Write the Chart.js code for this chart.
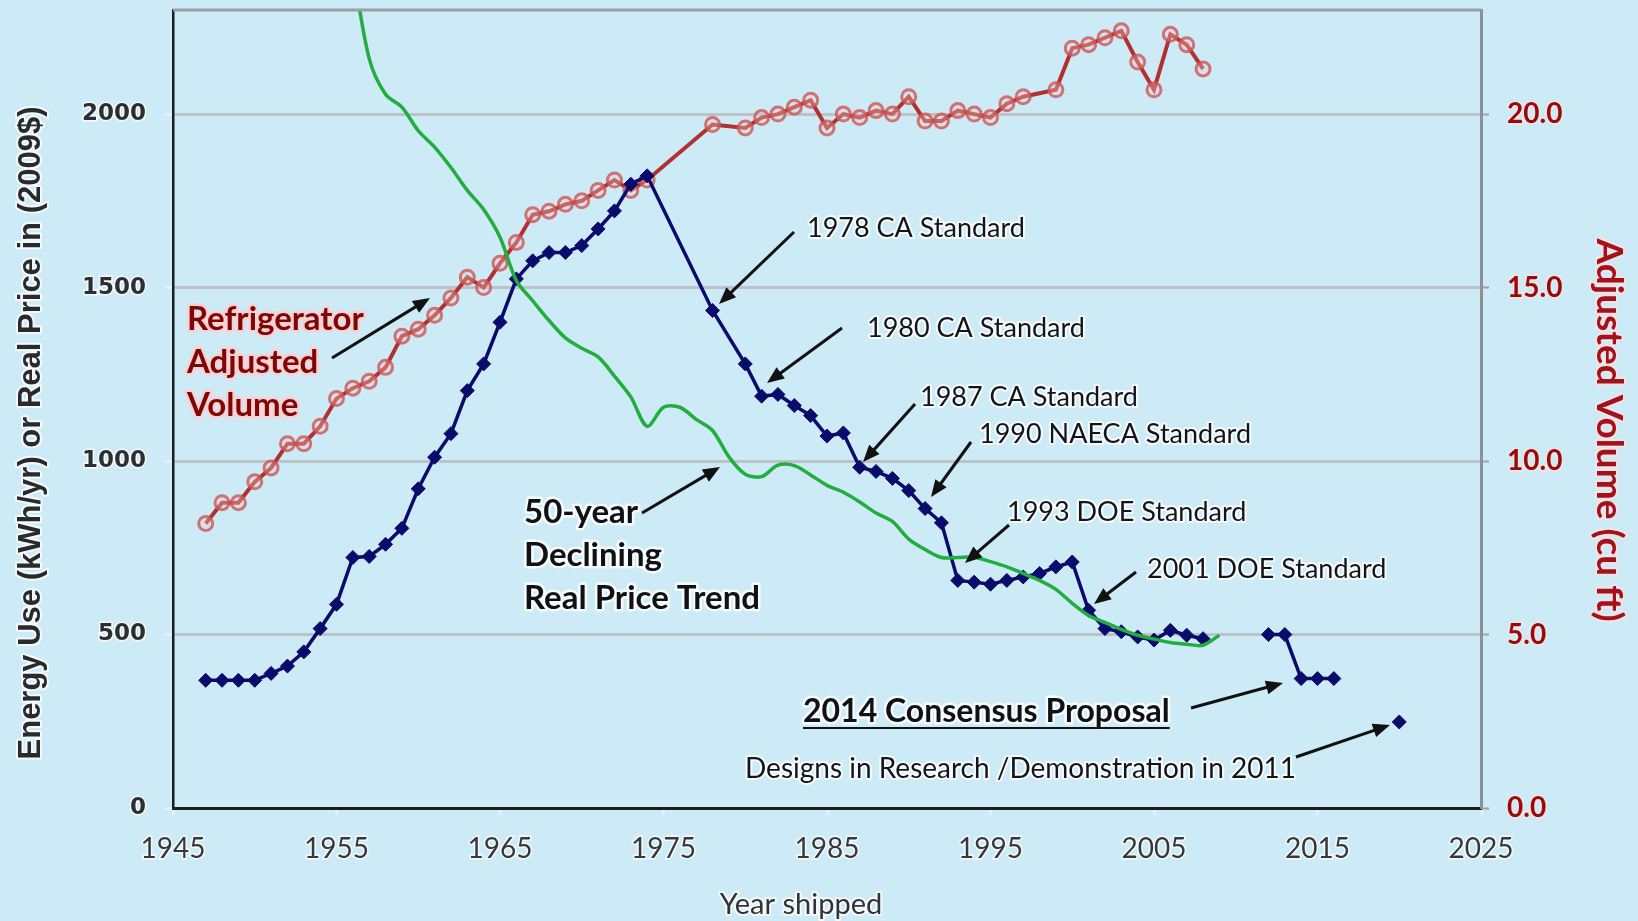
<!DOCTYPE html>
<html>
<head>
<meta charset="utf-8">
<script src="https://cdn.jsdelivr.net/npm/chart.js@4.4.1/dist/chart.umd.min.js"></script>
<style>
  html, body { margin: 0; padding: 0; background: #cdebf7; }
  canvas { display: block; }
</style>
</head>
<body>
<canvas id="fridgeChart" width="1638" height="921"></canvas>
<script>
// Energy use (kWh/yr), yearly shipments
const energyYears = [1947, 1948, 1949, 1950, 1951, 1952, 1953, 1954, 1955, 1956, 1957, 1958, 1959, 1960,
  1961, 1962, 1963, 1964, 1965, 1966, 1967, 1968, 1969, 1970, 1971, 1972, 1973, 1974, 1978, 1980,
  1981, 1982, 1983, 1984, 1985, 1986, 1987, 1988, 1989, 1990, 1991, 1992, 1993, 1994, 1995, 1996,
  1997, 1998, 1999, 2000, 2001, 2002, 2003, 2004, 2005, 2006, 2007, 2008];
const energyUse = [368, 368, 368, 368, 388, 409, 450, 517, 587, 722, 725, 760, 806, 920,
  1011, 1079, 1203, 1280, 1400, 1525, 1577, 1601, 1601, 1621, 1669, 1721, 1798, 1822, 1434, 1280,
  1187, 1192, 1160, 1131, 1072, 1081, 982, 970, 950, 915, 863, 822, 656, 651, 645, 656,
  666, 676, 695, 709, 570, 517, 508, 493, 484, 512, 498, 488];

// 2014 consensus proposal
const proposalYears = [2012, 2013, 2014, 2015, 2016];
const proposalUse = [500, 500, 373, 373, 373];

// designs in research / demonstration
const researchYears = [2020];
const researchUse = [248];

// real price (2009$)
const priceYears = [1956, 1957, 1958, 1959, 1960, 1961, 1962, 1963, 1964, 1965, 1966, 1967, 1968, 1969,
  1970, 1971, 1972, 1973, 1974, 1975, 1976, 1977, 1978, 1979, 1980, 1981, 1982, 1983, 1984, 1985,
  1986, 1987, 1988, 1989, 1990, 1991, 1992, 1993, 1994, 1995, 1996, 1997, 1998, 1999, 2000, 2001,
  2002, 2003, 2004, 2005, 2006, 2007, 2008, 2009];
const realPrice = [2420, 2160, 2057, 2020, 1952, 1905, 1846, 1780, 1725, 1645, 1520, 1462, 1405, 1355,
  1325, 1300, 1245, 1185, 1100, 1155, 1155, 1120, 1088, 1012, 962, 955, 988, 987, 960, 930,
  910, 882, 850, 826, 775, 745, 722, 722, 723, 710, 695, 676, 656, 630, 590, 555,
  535, 515, 498, 487, 477, 472, 469, 498];

// adjusted volume (cu ft)
const volumeYears = [1947, 1948, 1949, 1950, 1951, 1952, 1953, 1954, 1955, 1956, 1957, 1958, 1959, 1960,
  1961, 1962, 1963, 1964, 1965, 1966, 1967, 1968, 1969, 1970, 1971, 1972, 1973, 1974, 1978, 1980,
  1981, 1982, 1983, 1984, 1985, 1986, 1987, 1988, 1989, 1990, 1991, 1992, 1993, 1994, 1995, 1996,
  1997, 1999, 2000, 2001, 2002, 2003, 2004, 2005, 2006, 2007, 2008];
const adjustedVolume = [8.2, 8.8, 8.8, 9.4, 9.8, 10.5, 10.5, 11.0, 11.8, 12.1, 12.3, 12.7, 13.6, 13.8,
  14.2, 14.7, 15.3, 15.0, 15.7, 16.3, 17.1, 17.2, 17.4, 17.5, 17.8, 18.1, 17.8, 18.1, 19.7, 19.6,
  19.9, 20.0, 20.2, 20.4, 19.6, 20.0, 19.9, 20.1, 20.0, 20.5, 19.8, 19.8, 20.1, 20.0, 19.9, 20.3,
  20.5, 20.7, 21.9, 22.0, 22.2, 22.4, 21.5, 20.7, 22.3, 22.0, 21.3];

// axis ticks
const yearTicks = [1945, 1955, 1965, 1975, 1985, 1995, 2005, 2015, 2025];
const energyTicks = [0, 500, 1000, 1500, 2000];
const volumeTicks = [0, 5, 10, 15, 20];

// callouts: text, left x, middle y, arrow [x1, y1, x2, y2]
const standardNotes = [
  ['1978 CA Standard', 807, 228, [794, 232, 719, 304]],
  ['1980 CA Standard', 867, 328, [842, 328, 767, 383]],
  ['1987 CA Standard', 920, 397, [915, 404, 863, 462]],
  ['1990 NAECA Standard', 979, 434, [971, 442, 931, 497]],
  ['1993 DOE Standard', 1007, 512, [1009, 525, 965, 563]],
  ['2001 DOE Standard', 1147, 569, [1136, 572, 1094, 604]]
];

const pts = (xs, ys) => xs.map((x, i) => ({ x: x, y: ys[i] }));

const noteFont = 'Lato, "Open Sans", sans-serif';

function haloText(ctx, text, x, y, font, color, halo, hw) {
  ctx.font = font;
  ctx.textBaseline = 'middle';
  ctx.lineJoin = 'round';
  ctx.strokeStyle = halo;
  ctx.lineWidth = hw || 4;
  ctx.strokeText(text, x, y);
  ctx.fillStyle = color;
  ctx.fillText(text, x, y);
}

function arrow(ctx, x1, y1, x2, y2) {
  const a = Math.atan2(y2 - y1, x2 - x1);
  const len = 17, half = 7;
  ctx.strokeStyle = '#111';
  ctx.fillStyle = '#111';
  ctx.lineWidth = 3;
  ctx.beginPath();
  ctx.moveTo(x1, y1);
  ctx.lineTo(x2 - Math.cos(a) * len * 0.8, y2 - Math.sin(a) * len * 0.8);
  ctx.stroke();
  ctx.beginPath();
  ctx.moveTo(x2, y2);
  ctx.lineTo(x2 - Math.cos(a) * len + Math.sin(a) * half, y2 - Math.sin(a) * len - Math.cos(a) * half);
  ctx.lineTo(x2 - Math.cos(a) * len - Math.sin(a) * half, y2 - Math.sin(a) * len + Math.cos(a) * half);
  ctx.closePath();
  ctx.fill();
}

const decorPlugin = {
  id: 'decor',
  beforeDraw(chart) {
    const ctx = chart.ctx;
    ctx.save();
    ctx.fillStyle = '#cdebf7';
    ctx.fillRect(0, 0, chart.width, chart.height);
    ctx.restore();
  },
  afterDraw(chart) {
    const ctx = chart.ctx;
    const area = chart.chartArea;
    ctx.save();

    // top frame line
    ctx.strokeStyle = '#9a9fa3';
    ctx.lineWidth = 3;
    ctx.beginPath();
    ctx.moveTo(area.left, area.top);
    ctx.lineTo(area.right, area.top);
    ctx.stroke();

    // axis titles
    ctx.textAlign = 'center';
    ctx.save();
    ctx.translate(31, 433);
    ctx.rotate(-Math.PI / 2);
    haloText(ctx, 'Energy Use (kWh/yr) or Real Price in (2009$)', 0, 0,
      'bold 31px "Liberation Sans", Arial, sans-serif', '#2a2a2a', 'rgba(255,255,255,0.75)');
    ctx.restore();

    ctx.save();
    ctx.translate(1609, 430);
    ctx.rotate(Math.PI / 2);
    haloText(ctx, 'Adjusted Volume (cu ft)', 0, 0, 'bold 37px ' + noteFont, '#a3121a', 'rgba(255,225,225,0.7)');
    ctx.restore();

    haloText(ctx, 'Year shipped', 801, 905, '29px ' + noteFont, '#333', 'rgba(255,255,255,0.75)');

    // standard callouts
    ctx.textAlign = 'left';
    standardNotes.forEach(n => {
      haloText(ctx, n[0], n[1], n[2], '27px ' + noteFont, '#151515', 'rgba(255,255,255,0.8)');
      arrow(ctx, n[3][0], n[3][1], n[3][2], n[3][3]);
    });

    // volume label
    ['Refrigerator', 'Adjusted', 'Volume'].forEach((t, i) => {
      haloText(ctx, t, 187, 319 + i * 43, 'bold 33px ' + noteFont, '#7f0606', 'rgba(255,205,205,0.85)', 5);
    });
    arrow(ctx, 332, 358, 430, 298);

    // price trend label
    ['50-year', 'Declining', 'Real Price Trend'].forEach((t, i) => {
      haloText(ctx, t, 524, 512 + i * 43, 'bold 33px ' + noteFont, '#111', 'rgba(255,255,255,0.8)', 5);
    });
    arrow(ctx, 642, 513, 720, 467);

    // proposal + research labels
    const prop = '2014 Consensus Proposal';
    haloText(ctx, prop, 803, 712, 'bold 32px ' + noteFont, '#111', 'rgba(255,255,255,0.8)', 5);
    const w = ctx.measureText(prop).width;
    ctx.strokeStyle = '#111';
    ctx.lineWidth = 2;
    ctx.beginPath();
    ctx.moveTo(803, 728);
    ctx.lineTo(803 + w, 728);
    ctx.stroke();
    arrow(ctx, 1191, 708, 1283, 683);

    haloText(ctx, 'Designs in Research /Demonstration in 2011', 745, 769, '28px ' + noteFont, '#151515', 'rgba(255,255,255,0.8)');
    arrow(ctx, 1296, 757, 1390, 725);

    ctx.restore();
  }
};

// use exactly the tick values listed above
const useTicks = list => scale => {
  scale.ticks = list.map(v => ({ value: v }));
};

const ctx = document.getElementById('fridgeChart').getContext('2d');
window.fridgeChart = new Chart(ctx, {
  type: 'line',
  data: {
    datasets: [{
      label: 'Real price',
      data: pts(priceYears, realPrice),
      yAxisID: 'y',
      borderColor: '#22ad3e',
      borderWidth: 3.5,
      pointRadius: 0,
      tension: 0.3,
      order: 1
    }, {
      label: 'Energy use',
      data: pts(energyYears, energyUse),
      yAxisID: 'y',
      borderColor: '#0b0b6c',
      backgroundColor: '#0b0b6c',
      borderWidth: 3.5,
      pointStyle: 'rectRot',
      pointRadius: 7,
      pointBorderWidth: 1,
      order: 2
    }, {
      label: '2014 Consensus Proposal',
      data: pts(proposalYears, proposalUse),
      yAxisID: 'y',
      borderColor: '#0b0b6c',
      backgroundColor: '#0b0b6c',
      borderWidth: 3.5,
      pointStyle: 'rectRot',
      pointRadius: 7,
      pointBorderWidth: 1,
      order: 2
    }, {
      label: 'Designs in research',
      data: pts(researchYears, researchUse),
      yAxisID: 'y',
      borderColor: '#0b0b6c',
      backgroundColor: '#0b0b6c',
      pointStyle: 'rectRot',
      pointRadius: 7,
      pointBorderWidth: 1,
      order: 2
    }, {
      label: 'Adjusted volume',
      data: pts(volumeYears, adjustedVolume),
      yAxisID: 'y2',
      borderColor: '#b23030',
      borderWidth: 4,
      pointRadius: 7,
      pointBorderWidth: 3,
      pointBorderColor: 'rgba(205,85,85,0.8)',
      pointBackgroundColor: 'rgba(240,200,200,0.35)',
      order: 3
    }]
  },
  options: {
    responsive: false,
    animation: false,
    events: [],
    layout: { padding: { top: 8 } },
    plugins: {
      legend: { display: false },
      tooltip: { enabled: false }
    },
    scales: {
      x: {
        type: 'linear',
        min: yearTicks[0],
        max: yearTicks[yearTicks.length - 1],
        afterBuildTicks: useTicks(yearTicks),
        afterFit: s => { s.height = 113; s.paddingLeft = 0; s.paddingRight = 0; },
        ticks: {
          autoSkip: false,
          callback: v => String(v),
          font: { family: noteFont, size: 28 },
          color: '#383838',
          padding: 17,
          maxRotation: 0,
          textStrokeColor: 'rgba(255,255,255,0.75)',
          textStrokeWidth: 3
        },
        grid: { drawOnChartArea: false, tickLength: 7, tickWidth: 2, tickColor: '#eef4f6' },
        border: { color: '#1c1c1c', width: 3 }
      },
      y: {
        position: 'left',
        min: 0,
        max: 2300,
        afterBuildTicks: useTicks(energyTicks),
        afterFit: s => { s.width = 173; s.paddingTop = 0; s.paddingBottom = 0; },
        ticks: {
          autoSkip: false,
          callback: v => String(v),
          font: { family: '"DejaVu Sans", Verdana, sans-serif', size: 23, weight: 'bold' },
          color: '#2e2e2e',
          padding: 19,
          textStrokeColor: 'rgba(255,255,255,0.75)',
          textStrokeWidth: 3
        },
        grid: { color: '#bcc3c7', lineWidth: 3, tickLength: 8, tickColor: '#eaf1f4', tickWidth: 2 },
        border: { color: '#1c1c1c', width: 2.5 }
      },
      y2: {
        position: 'right',
        min: 0,
        max: 23,
        afterBuildTicks: useTicks(volumeTicks),
        afterFit: s => { s.width = 157; s.paddingTop = 0; s.paddingBottom = 0; },
        ticks: {
          autoSkip: false,
          callback: v => v.toFixed(1),
          font: { family: noteFont, size: 28, weight: 'bold' },
          color: '#990b0b',
          padding: 18,
          textStrokeColor: 'rgba(255,225,225,0.7)',
          textStrokeWidth: 3
        },
        grid: { drawOnChartArea: false, tickLength: 8, tickColor: '#9aa0a4', tickWidth: 2 },
        border: { color: '#8c9195', width: 3 }
      }
    }
  },
  plugins: [decorPlugin]
});
</script>
</body>
</html>
